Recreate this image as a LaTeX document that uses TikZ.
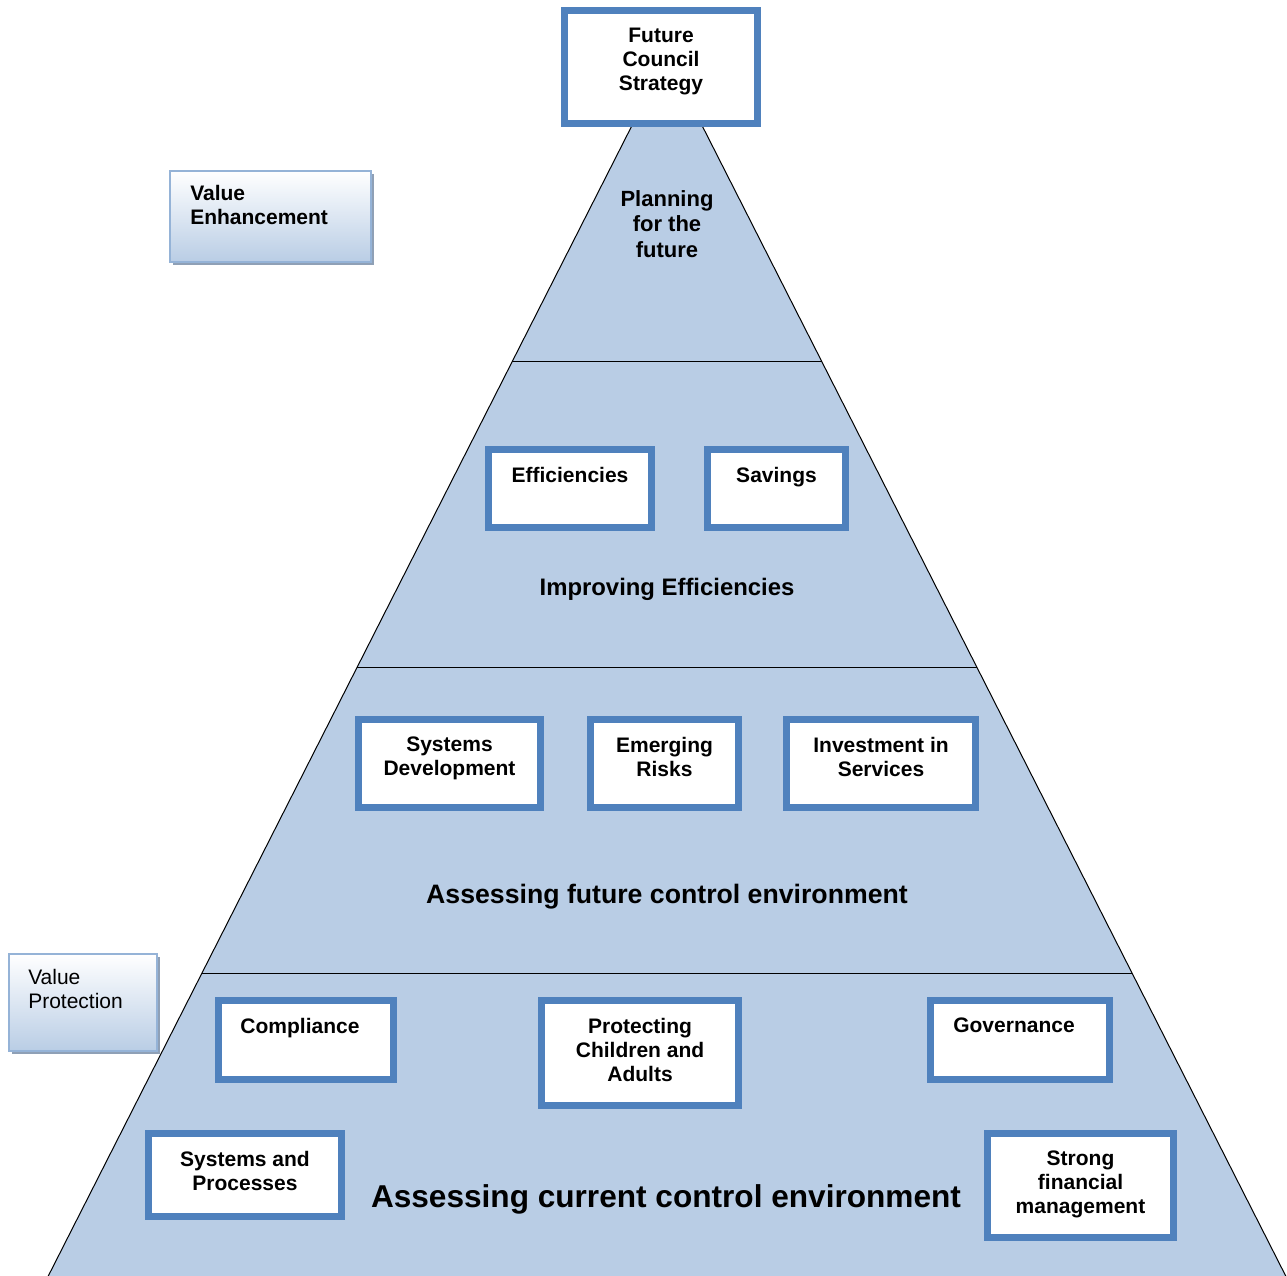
\documentclass[tikz,border=0pt]{standalone}
\usepackage{fontspec}
\setmainfont{Liberation Sans}
\usetikzlibrary{positioning,shadows,calc}
\definecolor{pyrblue}{HTML}{B9CDE5}
\definecolor{cardblue}{HTML}{4F81BD}
\definecolor{valueline}{HTML}{95B3D7}
\definecolor{valueshadow}{HTML}{8FA0B6}
\begin{document}
\begin{tikzpicture}[x=0.75pt,y=-0.75pt,
    card/.style={draw=cardblue, line width=5.25pt, fill=white, inner sep=0pt},
    cardtext/.style={inner sep=0pt, align=center, font=\fontsize{15.75}{18}\selectfont\bfseries},
    valuebox/.style={draw=valueline, line width=1.5pt, top color=white, bottom color=pyrblue, inner sep=0pt,
      drop shadow={shadow xshift=2.25pt, shadow yshift=-2.25pt, fill=valueshadow, opacity=1}},
    valuetext/.style={inner sep=0pt, align=left, font=\fontsize{15.75}{18}\selectfont}]
    \useasboundingbox (0,0) rectangle (1287,1276);

    \coordinate (apex) at (667,56.5);
    \coordinate (bl) at (47,1278.5);
    \coordinate (br) at (1287,1278.5);
    \fill[pyrblue] (apex) -- (bl) -- (br) -- cycle;
    \draw[line width=0.75pt] (bl) -- (apex) -- (br);
    \foreach \t in {0.25,0.5,0.75}
        \draw[line width=0.75pt] ($(apex)!\t!(bl)$) -- ($(apex)!\t!(br)$);

    \begin{scope}[every node/.append style={inner sep=0pt, align=center}]
    \node[anchor=north, font=\fontsize{16.5}{19.3}\selectfont\bfseries] (planning) at (667,190) {Planning\\for the\\future};
    \node[anchor=base, font=\fontsize{17.9}{20}\selectfont\bfseries] (improving) at (667,595.5) {Improving Efficiencies};
    \node[anchor=base, font=\fontsize{20}{24}\selectfont\bfseries] (futureenv) at (667,903) {Assessing future control environment};
    \node[anchor=base, font=\fontsize{23.7}{28}\selectfont\bfseries] (currentenv) at (666,1207) {Assessing current control environment};
    \end{scope}

    \node[card, minimum width=144.75pt, minimum height=84.75pt] (strategy) at (661,67) {};
    \node[cardtext, below=15.75pt of strategy.north] (strategyT) {Future\\Council\\Strategy};

    \node[card, minimum width=122.25pt, minimum height=58.5pt] (effic) at (570,488.5) {};
    \node[cardtext, below=15.75pt of effic.north] (efficT) {Efficiencies};
    \node[card, minimum width=103.5pt, minimum height=58.5pt] (savings) at (776.5,488.5) {};
    \node[cardtext, below=15.75pt of savings.north] (savingsT) {Savings};

    \node[card, minimum width=136.5pt, minimum height=66pt] (sysdev) at (449.5,763.5) {};
    \node[cardtext, below=15.75pt of sysdev.north] (sysdevT) {Systems\\Development};
    \node[card, minimum width=111pt, minimum height=66pt] (risks) at (664.5,763.5) {};
    \node[cardtext, below=15.75pt of risks.north] (risksT) {Emerging\\Risks};
    \node[card, minimum width=141.75pt, minimum height=66pt] (invest) at (881,763.5) {};
    \node[cardtext, below=15.75pt of invest.north] (investT) {Investment in\\Services};

    \node[card, minimum width=131.25pt, minimum height=59.25pt] (compl) at (306,1040) {};
    \node[cardtext, below=15.75pt of compl.north, xshift=-4.5pt] (complT) {Compliance};
    \node[card, minimum width=147.75pt, minimum height=78.75pt] (protect) at (640,1053) {};
    \node[cardtext, below=15.75pt of protect.north] (protectT) {Protecting\\Children and\\Adults};
    \node[card, minimum width=134.25pt, minimum height=59.25pt] (govern) at (1020,1040) {};
    \node[cardtext, below=15.75pt of govern.north, xshift=-4.5pt] (governT) {Governance};

    \node[card, minimum width=144.75pt, minimum height=62.25pt] (sysproc) at (245,1175) {};
    \node[cardtext, below=15.75pt of sysproc.north] (sysprocT) {Systems and\\Processes};
    \node[card, minimum width=139.5pt, minimum height=78pt] (finance) at (1080.5,1185.5) {};
    \node[cardtext, below=15.75pt of finance.north] (financeT) {Strong\\financial\\management};

    \node[valuebox, minimum width=150.75pt, minimum height=68.25pt] (enhance) at (270.5,216.5) {};
    \node[valuetext, font=\fontsize{15.75}{18}\selectfont\bfseries, below right=11.25pt and 15.75pt of enhance.north west] (enhanceT) {Value\\Enhancement};
    \node[valuebox, minimum width=111pt, minimum height=72.75pt] (protection) at (83,1002.5) {};
    \node[valuetext, below right=12pt and 15pt of protection.north west] (protectionT) {Value\\Protection};
\end{tikzpicture}
\end{document}
